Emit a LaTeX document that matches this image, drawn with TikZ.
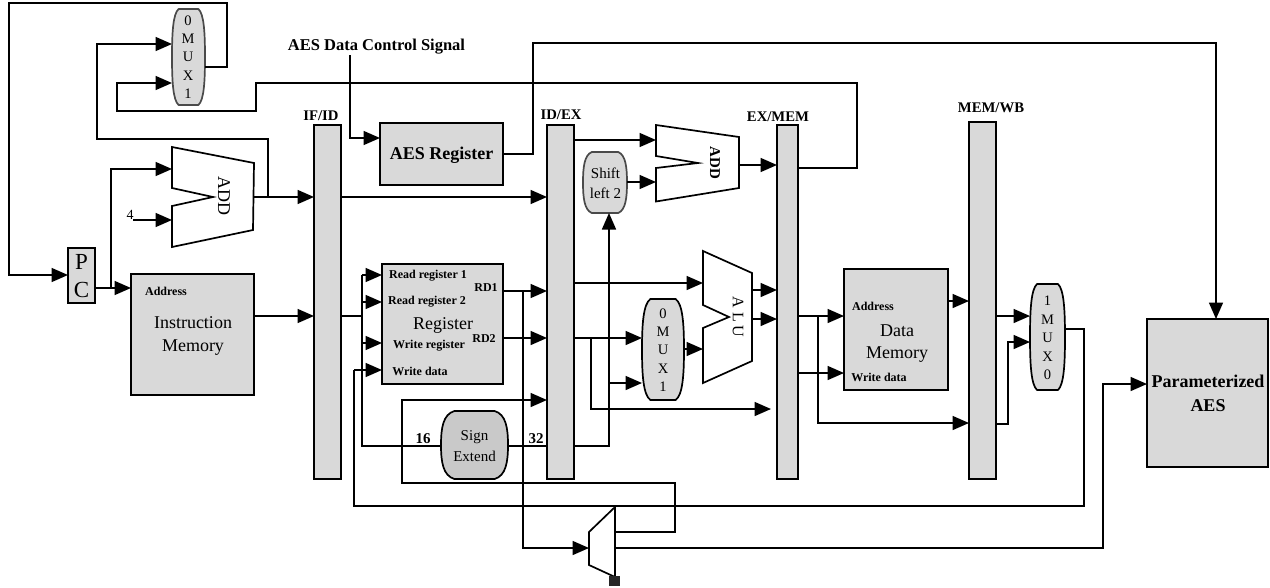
\documentclass[tikz,border=0pt]{standalone}
\usepackage{fontspec}
\setmainfont{Liberation Serif}
\usetikzlibrary{arrows.meta,calc}
\definecolor{boxgray}{HTML}{D9D9D9}
\definecolor{signgray}{HTML}{C9C9C9}
\definecolor{edgegray}{HTML}{4A4A4A}
\newcommand\fsz[1]{\fontsize{#1}{#1}\selectfont}
\tikzset{
  wire/.style={line width=1.7pt,draw=black,line join=miter},
  arr/.style={wire,-{Triangle[length=16.5pt,width=14pt]}},
  stage/.style={draw=black,line width=1.7pt,fill=boxgray,inner sep=0pt,outer sep=0pt},
  anchorbox/.style={inner sep=0pt,outer sep=0pt},
  trap/.style={draw=black,line width=1.7pt,fill=white,line join=miter},
  roundshape/.style={draw=black,line width=1.7pt,fill=boxgray,line join=round},
  tinybold/.style={font=\bfseries\fsz{12},inner sep=0pt},
  pipelabel/.style={font=\bfseries\fsz{14.7},inner sep=0pt},
  plain/.style={font=\fsz{18},inner sep=0pt,align=center},
  muxtext/.style={font=\fontsize{14.5}{18.4}\selectfont,inner sep=0pt,align=center},
}
% name, x0, y0, x1, y1, style
\newcommand\blob[6]{%
  \path[#6] ($(#2,#3)!0.2!(#4,#3)$) -- ($(#2,#3)!0.8!(#4,#3)$)
    .. controls ($(#2,#3)!0.97!(#4,#3)+(0,0.05*#5-0.05*#3)$) and (#4,{#3+0.25*(#5-#3)}) .. (#4,{(#3+#5)/2})
    .. controls (#4,{#3+0.75*(#5-#3)}) and ($(#2,#5)!0.97!(#4,#5)+(0,0.05*#3-0.05*#5)$) .. ($(#2,#5)!0.8!(#4,#5)$)
    -- ($(#2,#5)!0.2!(#4,#5)$)
    .. controls ($(#2,#5)!0.03!(#4,#5)+(0,0.05*#3-0.05*#5)$) and (#2,{#3+0.75*(#5-#3)}) .. (#2,{(#3+#5)/2})
    .. controls (#2,{#3+0.25*(#5-#3)}) and ($(#2,#3)!0.03!(#4,#3)+(0,0.05*#5-0.05*#3)$) .. cycle;
  \node[anchorbox,minimum width={(#4-#2)*1pt},minimum height={(#5-#3)*1pt}] (#1) at ({(#2+#4)/2},{(#3+#5)/2}) {};
}
\begin{document}
\begin{tikzpicture}[x=1pt,y=-1pt]
\useasboundingbox (0,0) rectangle (1270,587);

% trapezoids
\draw[trap] (172,147) -- (254,163) -- (253,230) -- (172,247) -- (172,206) -- (213,197) -- (172,188) -- cycle;
\node[anchorbox,minimum width=82pt,minimum height=100pt] (add1) at (213,197) {};
\draw[trap] (656,125) -- (739,137) -- (739,188) -- (656,201.5) -- (656,168) -- (698,163) -- (656,156) -- cycle;
\node[anchorbox,minimum width=83pt,minimum height=77pt] (add2) at (697.5,163) {};
\draw[trap] (703,251) -- (752,273) -- (752,361) -- (703,383) -- (703,328) -- (729,317) -- (703,305) -- cycle;
\node[anchorbox,minimum width=49pt,minimum height=132pt] (alu) at (727.5,317) {};
\draw[trap] (589,532) -- (615,507) -- (615,577) -- (589,565) -- cycle;
\node[anchorbox,minimum width=26pt,minimum height=70pt] (dmx) at (602,542) {};
\fill[black!85] (609,576) rectangle (620,586);

% rectangular blocks
\node[stage,minimum width=27pt,minimum height=55pt] (pc) at (81.5,275.5) {};
\node[stage,minimum width=123pt,minimum height=121pt] (imem) at (192.5,334.5) {};
\node[stage,minimum width=27pt,minimum height=354pt] (ifid) at (327.5,302) {};
\node[stage,minimum width=123pt,minimum height=62pt] (aesreg) at (441.5,154) {};
\node[stage,minimum width=121pt,minimum height=120pt] (regs) at (442.5,324) {};
\node[stage,minimum width=27pt,minimum height=354pt] (idex) at (560.5,302) {};
\node[stage,minimum width=21pt,minimum height=354pt] (exmem) at (787.5,302) {};
\node[stage,minimum width=104pt,minimum height=121pt] (dmem) at (896,329.5) {};
\node[stage,minimum width=27pt,minimum height=357pt] (memwb) at (982.5,300.5) {};
\node[stage,line width=2.6pt,minimum width=121pt,minimum height=148pt] (paes) at (1207.5,393) {};

% rounded blocks
\blob{muxa}{172}{9}{205}{105}{roundshape,draw=edgegray}
\blob{muxb}{642}{299}{684}{400}{roundshape}
\blob{muxc}{1030}{284}{1065}{390}{roundshape}
\blob{sign}{441}{411}{508}{479}{roundshape,fill=signgray}
\blob{shift}{583}{152}{627}{213}{roundshape,draw=edgegray}

% wires
\draw[arr] (muxa.east |- 0,67) -- (227,67) -- (227,3) -- (9,3) -- (9,275) -- (pc.west |- 0,275);
\draw[arr] (add1.east |- 0,197) ++(14,0) -- (268,139) -- (97,139) -- (97,44) -- (muxa.west |- 0,44);
\draw[arr] (exmem.east |- 0,168) -- (857,168) -- (857,83) -- (256,83) -- (256,111) -- (117,111) -- (117,83) -- (muxa.west |- 0,83);
\draw[arr] (pc.east |- 0,288) -- (imem.west |- 0,288);
\draw[arr] (111,288) -- (111,169) -- (add1.west |- 0,169);
\coordinate (four) at (133,220);
\draw[arr] (four) -- (add1.west |- 0,220);
\draw[arr] (add1.east |- 0,197) -- (ifid.west |- 0,197);
\draw[arr] (imem.east |- 0,316) -- (ifid.west |- 0,316);
\draw[arr] (ifid.east |- 0,197) -- (idex.west |- 0,197);
\coordinate (ctrl) at (350,55);
\draw[arr] (ctrl) -- (350,138) -- (aesreg.west |- 0,138);
\draw[arr] (aesreg.east |- 0,154) -- (533,154) -- (533,43) -- (1216,43) -- (paes.north -| 1216,0);
\draw[wire] (ifid.east |- 0,316) -- (362,316);
\draw[wire] (362,275) -- (362,446) -- (sign.west |- 0,446);
\draw[arr] (362,275) -- (regs.west |- 0,275);
\draw[arr] (362,302) -- (regs.west |- 0,302);
\draw[arr] (362,343) -- (regs.west |- 0,343);
\draw[arr] (354,370) -- (regs.west |- 0,370);
\draw[wire] (muxc.east |- 0,329) -- (1084,329) -- (1084,506) -- (354,506) -- (354,370);
\draw[arr] (regs.east |- 0,291) -- (idex.west |- 0,291);
\draw[arr] (regs.east |- 0,338) -- (idex.west |- 0,338);
\draw[arr] (523,291) -- (523,548) -- (dmx.west |- 0,548);
\draw[wire] (sign.east |- 0,446) -- (idex.west |- 0,446);
\draw[arr] (dmx.east |- 0,532) -- (675,532) -- (675,483) -- (402,483) -- (402,400) -- (idex.west |- 0,400);
\draw[arr] (dmx.east |- 0,548) -- (1103,548) -- (1103,384) -- (paes.west |- 0,384);
\draw[arr] (idex.east |- 0,446) -- (609,446) -- (shift.south -| 609,0);
\draw[arr] (idex.east |- 0,140) -- (add2.west |- 0,140);
\draw[arr] (shift.east |- 0,182) -- (add2.west |- 0,182);
\draw[arr] (add2.east |- 0,165) -- (exmem.west |- 0,165);
\draw[arr] (idex.east |- 0,283) -- (alu.west |- 0,283);
\draw[arr] (idex.east |- 0,338) -- (muxb.west |- 0,338);
\draw[arr] (609,383) -- (muxb.west |- 0,383);
\draw[arr] (591,338) -- (591,409) -- (771,409);
\draw[arr] (muxb.east |- 0,349) -- (alu.west |- 0,349);
\draw[arr] (alu.east |- 0,290) -- (exmem.west |- 0,290);
\draw[arr] (alu.east |- 0,319) -- (exmem.west |- 0,319);
\draw[arr] (exmem.east |- 0,316) -- (dmem.west |- 0,316);
\draw[arr] (exmem.east |- 0,373) -- (dmem.west |- 0,373);
\draw[arr] (818,316) -- (818,423) -- (memwb.west |- 0,423);
\draw[arr] (dmem.east |- 0,301) -- (memwb.west |- 0,301);
\draw[arr] (memwb.east |- 0,316) -- (muxc.west |- 0,316);
\draw[arr] (memwb.east |- 0,424) -- (1008,424) -- (1008,342) -- (muxc.west |- 0,342);

% texts
\node[font=\bfseries\fsz{16.5},inner sep=0pt] (t1) at (376.5,47) {AES Data Control Signal};
\node[pipelabel] (t2) at (321,116) {IF/ID};
\node[pipelabel] (t3) at (561,115) {ID/EX};
\node[pipelabel] (t4) at (778,117) {EX/MEM};
\node[pipelabel] (t5) at (991,108) {MEM/WB};
\node[muxtext] (t6) at (188,57) {0\\M\\U\\X\\1};
\node[muxtext] (t7) at (663,350) {0\\M\\U\\X\\1};
\node[muxtext] (t8) at (1047.5,338) {1\\M\\U\\X\\0};
\node[font=\fsz{18},rotate=-90,inner sep=0pt] (t9) at (224,196) {ADD};
\node[font=\bfseries\fsz{15},rotate=-90,inner sep=0pt] (t10) at (715,163) {ADD};
\node[font=\fsz{16},rotate=-90,inner sep=0pt] (t11) at (738,317) {A L U};
\node[font=\fsz{14},inner sep=0pt] (t12) at (130,215) {4};
\node[font=\fsz{23},inner sep=0pt] (t13) at (81.5,262) {P};
\node[font=\fsz{23},inner sep=0pt] (t14) at (81.5,290) {C};
\node[tinybold] (t15) at (166,291) {Address};
\node[plain] (t16) at (193,323) {Instruction};
\node[plain] (t17) at (193,348) {Memory};
\node[font=\bfseries\fsz{18},inner sep=0pt] (t18) at (441.5,155) {AES Register};
\node[tinybold] (t19) at (428,275.5) {Read register 1};
\node[tinybold] (t20) at (427,302) {Read register 2};
\node[plain] (t21) at (443,325) {Register};
\node[tinybold] (t22) at (429,346) {Write register};
\node[tinybold] (t23) at (420,371) {Write data};
\node[tinybold] (t24) at (486,288) {RD1};
\node[tinybold] (t25) at (484,339) {RD2};
\node[font=\bfseries\fsz{15},inner sep=0pt] (t26) at (423,439) {16};
\node[font=\bfseries\fsz{15},inner sep=0pt] (t27) at (536,439) {32};
\node[font=\fontsize{15}{21}\selectfont,inner sep=0pt,align=center] (t28) at (474.5,446) {Sign\\Extend};
\node[font=\fontsize{15}{20}\selectfont,inner sep=0pt,align=center] (t29) at (605.5,183) {Shift\\left 2};
\node[tinybold] (t30) at (873,306) {Address};
\node[plain] (t31) at (897,331) {Data};
\node[plain] (t34) at (897,355) {Memory};
\node[tinybold] (t32) at (879,377) {Write data};
\node[font=\bfseries\fontsize{18}{24}\selectfont,inner sep=0pt,align=center] (t33) at (1208,393) {Parameterized\\AES};
\end{tikzpicture}
\end{document}
